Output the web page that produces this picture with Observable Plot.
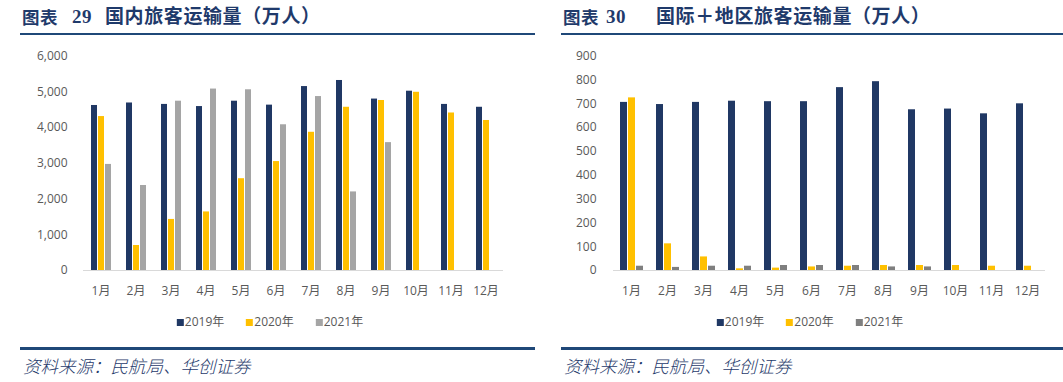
<!DOCTYPE html>
<html>
<head>
<meta charset="utf-8">
<script src="https://cdn.jsdelivr.net/npm/d3@7"></script>
<script src="https://cdn.jsdelivr.net/npm/@observablehq/plot@0.6"></script>
<style>
  html, body { margin: 0; padding: 0; background: #fff; }
  #page { position: relative; width: 1063px; height: 382px; overflow: hidden; background: #fff; }
  .title { position: absolute; top: 5px; font-family: "Liberation Serif", "Noto Sans CJK SC", serif; font-weight: bold; font-size: 19px; letter-spacing: 0.6px; line-height: 24px; color: #1F3A6B; white-space: pre; }
  .title.small { font-size: 17.5px; top: 6px; }
  .rule { position: absolute; height: 2.5px; background: #1F4878; }
  .chart { position: absolute; top: 40px; }
  .legend { position: absolute; top: 314px; display: flex; transform: translateX(-50%); font-family: "Open Sans", "Noto Sans CJK SC", sans-serif; font-size: 12px; color: #595959; line-height: 16px; white-space: nowrap; }
  .legend .item { display: flex; align-items: center; margin-right: 22px; }
  .legend .item:last-child { margin-right: 0; }
  .legend .sw { width: 7px; height: 7px; margin-right: 1px; }
  .source { position: absolute; top: 354px; font-family: "Noto Sans CJK SC", sans-serif; font-style: italic; font-weight: 300; font-size: 17.5px; line-height: 24px; color: #1F3A6B; white-space: nowrap; }
</style>
</head>
<body>
<div id="page"></div>
<script>
// ---------- data ----------
const months = ["1月","2月","3月","4月","5月","6月","7月","8月","9月","10月","11月","12月"];
const years = ["2019年","2020年","2021年"];

const domestic2019 = [4620,4690,4650,4590,4740,4630,5150,5320,4800,5020,4650,4570];
const domestic2020 = [4310,700,1430,1640,2570,3050,3870,4570,4760,4990,4410,4200];
const domestic2021 = [2970,2380,4740,5080,5060,4080,4870,2200,3580,null,null,null];

const intl2019 = [706,697,706,711,709,709,768,793,675,678,658,700];
const intl2020 = [725,112,57,7,10,15,18,21,21,21,18,18];
const intl2021 = [18,13,18,18,21,21,21,15,15,null,null,null];

const domesticTicks = [0,1000,2000,3000,4000,5000,6000];
const intlTicks = [0,100,200,300,400,500,600,700,800,900];

const titleLeft = ["图表", "29", "国内旅客运输量（万人）"];
const titleRight = ["图表", "30", "国际＋地区旅客运输量（万人）"];
const sourceText = "资料来源：民航局、华创证券";

const colorsLeft = ["#203864","#FFC000","#A5A5A5"];
const colorsRight = ["#203864","#FFC000","#7F7F7F"];

// ---------- helpers ----------
function toRows(series) {
  const rows = [];
  months.forEach((m, i) => {
    years.forEach((y, j) => {
      const v = series[j][i];
      if (v != null) rows.push({month: m, year: y, value: v});
    });
  });
  return rows;
}

function makeChart(rows, colors, ticks, o) {
  return Plot.plot({
    width: o.width,
    height: 265,
    marginTop: 15.7,
    marginBottom: 35,
    marginLeft: o.marginLeft,
    marginRight: o.marginRight,
    style: {fontFamily: '"Open Sans","Noto Sans CJK SC",sans-serif', fontSize: "12px", color: "#595959", background: "transparent", overflow: "visible"},
    fx: {domain: months, padding: 0, label: null, axis: "bottom", tickSize: 0, tickPadding: 16},
    x: {domain: years, axis: null, paddingInner: 0.15, paddingOuter: 0.8},
    y: {domain: [0, d3.max(ticks)], ticks: ticks, tickFormat: d3.format(","), tickSize: 0, tickPadding: o.yPad, label: null},
    color: {domain: years, range: colors},
    marks: [
      Plot.barY(rows, {fx: "month", x: "year", y: "value", fill: "year"}),
      Plot.ruleY([0], {stroke: "#D9D9D9", strokeWidth: 1})
    ]
  });
}

function addDiv(cls, css, text) {
  const d = document.createElement("div");
  d.className = cls;
  Object.assign(d.style, css);
  if (text != null) d.textContent = text;
  document.getElementById("page").appendChild(d);
  return d;
}

function addTitle(parts, lefts) {
  parts.forEach((p, i) => addDiv(i === 0 ? "title small" : "title", {left: lefts[i] + "px"}, p));
}

function addLegend(centerX, colors) {
  const lg = addDiv("legend", {left: centerX + "px"});
  years.forEach((y, i) => {
    const it = document.createElement("div");
    it.className = "item";
    const sw = document.createElement("span");
    sw.className = "sw";
    sw.style.background = colors[i];
    const t = document.createElement("span");
    t.textContent = y;
    it.appendChild(sw); it.appendChild(t);
    lg.appendChild(it);
  });
}

// ---------- layout ----------
addTitle(titleLeft, [22, 72, 105]);
addTitle(titleRight, [563, 606, 656]);
addDiv("rule", {left: "20px", width: "515px", top: "32.5px"});
addDiv("rule", {left: "561px", width: "502px", top: "32.5px"});

const left = addDiv("chart", {left: "0px"});
left.appendChild(makeChart(toRows([domestic2019, domestic2020, domestic2021]), colorsLeft, domesticTicks,
  {width: 531, marginLeft: 78, marginRight: 23, yPad: 16}));

const right = addDiv("chart", {left: "531px"});
right.appendChild(makeChart(toRows([intl2019, intl2020, intl2021]), colorsRight, intlTicks,
  {width: 532, marginLeft: 79, marginRight: 15, yPad: 17}));

addLegend(270, colorsLeft);
addLegend(810, colorsRight);

addDiv("rule", {left: "20px", width: "515px", top: "347px"});
addDiv("rule", {left: "561px", width: "502px", top: "347px"});
addDiv("source", {left: "23px"}, sourceText);
addDiv("source", {left: "564px"}, sourceText);
</script>
</body>
</html>
